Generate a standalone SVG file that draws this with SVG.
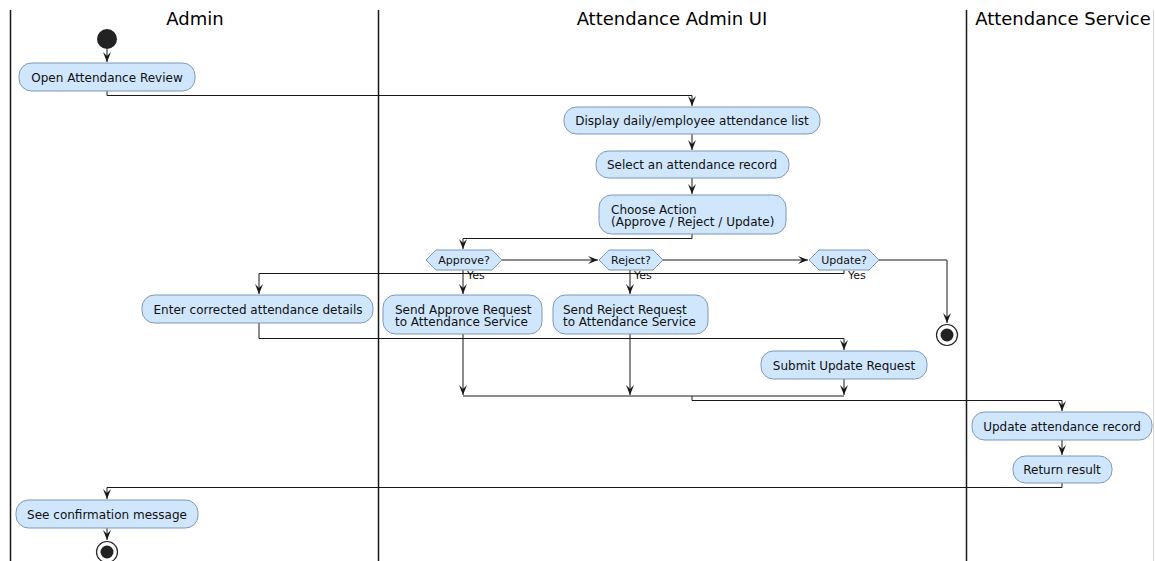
<svg xmlns="http://www.w3.org/2000/svg" width="1155" height="561" viewBox="0 0 1155 561">
<style>
.lane{stroke:#181818;stroke-width:1.5;fill:none}
.hdr{font-family:"DejaVu Sans",sans-serif;font-size:18px;fill:#000;text-anchor:middle}
.box{fill:#cfe6fc;stroke:#7d98b3;stroke-width:1}
.t{font-family:"DejaVu Sans",sans-serif;font-size:12px;fill:#111}
.c{text-anchor:middle}
.d{font-family:"DejaVu Sans",sans-serif;font-size:11px;fill:#111;text-anchor:middle}
.y{font-family:"DejaVu Sans",sans-serif;font-size:11px;fill:#111}
.ln{stroke:#181818;stroke-width:1;fill:none}
.a{marker-end:url(#arr)}
</style>
<defs>
<marker id="arr" viewBox="-11 -5 12 10" refX="0" refY="0" markerWidth="12" markerHeight="10" orient="auto" markerUnits="userSpaceOnUse">
<path d="M-10,-4 L0,0 L-10,4 L-6,0 Z" fill="#181818"/>
</marker>
</defs>
<rect width="1155" height="561" fill="#fff"/>
<g id="lanes">
<line class="lane" x1="10.5" y1="10" x2="10.5" y2="561"/>
<line class="lane" x1="378.5" y1="10" x2="378.5" y2="561"/>
<line class="lane" x1="966.5" y1="10" x2="966.5" y2="561"/>
<line x1="1153.5" y1="10" x2="1153.5" y2="561" stroke="#d8d8d8" stroke-width="1"/>
<text class="hdr" x="195" y="25">Admin</text>
<text class="hdr" x="672" y="25">Attendance Admin UI</text>
<text class="hdr" x="1063" y="25">Attendance Service</text>
</g>
<g id="connectors">
<path class="ln a" d="M107,49 V62"/>
<path class="ln a" d="M107,91 V95.5 H692 V106"/>
<path class="ln a" d="M692,134 V150"/>
<path class="ln a" d="M692,178 V194"/>
<path class="ln a" d="M692,234 V238.5 H463 V249"/>
<path class="ln a" d="M502,260 H598"/>
<path class="ln a" d="M663,260 H808"/>
<path class="ln a" d="M879,260 H947 V323"/>
<path class="ln a" d="M463,270 V294"/>
<path class="ln a" d="M630,270 V294"/>
<path class="ln a" d="M844,270 V273.5 H259 V294"/>
<path class="ln a" d="M259,323 V338.5 H844 V350"/>
<path class="ln a" d="M463,334 V395"/>
<path class="ln a" d="M630,334 V395"/>
<path class="ln a" d="M844,379 V395"/>
<path class="ln" d="M463,396 H844"/>
<path class="ln a" d="M692,396 V400.5 H1062 V411"/>
<path class="ln a" d="M1062,440 V455"/>
<path class="ln a" d="M1062,483 V487.5 H107 V499"/>
<path class="ln a" d="M107,528 V540"/>
<text class="y" x="467" y="279">Yes</text>
<text class="y" x="634" y="279">Yes</text>
<text class="y" x="848" y="279">Yes</text>
</g>
<g id="start"><circle cx="107" cy="39" r="10" fill="#222"/></g>
<g id="open-review">
<rect class="box" x="19" y="63" width="176" height="28" rx="12.5"/>
<text class="t c" x="107" y="81.5">Open Attendance Review</text>
</g>
<g id="display-list">
<rect class="box" x="564" y="107" width="256" height="27" rx="12.5"/>
<text class="t c" x="692" y="125">Display daily/employee attendance list</text>
</g>
<g id="select-record">
<rect class="box" x="596" y="151" width="193" height="27" rx="12.5"/>
<text class="t c" x="692" y="169">Select an attendance record</text>
</g>
<g id="choose-action">
<rect class="box" x="599" y="195" width="187" height="39" rx="12.5"/>
<text class="t" x="611" y="213.5">Choose Action</text>
<text class="t" x="611" y="225.5">(Approve / Reject / Update)</text>
</g>
<g id="approve-q">
<polygon class="box" points="426,260 436,250 492,250 502,260 492,270 436,270"/>
<text class="d" x="464" y="264">Approve?</text>
</g>
<g id="reject-q">
<polygon class="box" points="599,260 609,250 653,250 663,260 653,270 609,270"/>
<text class="d" x="631" y="264">Reject?</text>
</g>
<g id="update-q">
<polygon class="box" points="809,260 819,250 869,250 879,260 869,270 819,270"/>
<text class="d" x="844" y="264">Update?</text>
</g>
<g id="end-top">
<circle cx="947" cy="335" r="10.5" fill="#fff" stroke="#222" stroke-width="1.2"/>
<circle cx="947" cy="335" r="6.5" fill="#222"/>
</g>
<g id="enter-details">
<rect class="box" x="142" y="295" width="231" height="28" rx="12.5"/>
<text class="t c" x="258" y="313.5">Enter corrected attendance details</text>
</g>
<g id="send-approve">
<rect class="box" x="383" y="295" width="159" height="39" rx="12.5"/>
<text class="t" x="395" y="313.5">Send Approve Request</text>
<text class="t" x="395" y="325.5">to Attendance Service</text>
</g>
<g id="send-reject">
<rect class="box" x="553" y="295" width="155" height="39" rx="12.5"/>
<text class="t" x="563" y="313.5">Send Reject Request</text>
<text class="t" x="563" y="325.5">to Attendance Service</text>
</g>
<g id="submit-update">
<rect class="box" x="761" y="351" width="166" height="28" rx="12.5"/>
<text class="t c" x="844" y="369.5">Submit Update Request</text>
</g>
<g id="update-record">
<rect class="box" x="972" y="412" width="180" height="28" rx="12.5"/>
<text class="t c" x="1062" y="430.5">Update attendance record</text>
</g>
<g id="return-result">
<rect class="box" x="1013" y="456" width="99" height="27" rx="12.5"/>
<text class="t c" x="1062" y="474">Return result</text>
</g>
<g id="see-confirmation">
<rect class="box" x="16" y="500" width="182" height="28" rx="12.5"/>
<text class="t c" x="107" y="518.5">See confirmation message</text>
</g>
<g id="end-bottom">
<circle cx="107" cy="552" r="10.5" fill="#fff" stroke="#222" stroke-width="1.2"/>
<circle cx="107" cy="552" r="6.5" fill="#222"/>
</g>
</svg>
